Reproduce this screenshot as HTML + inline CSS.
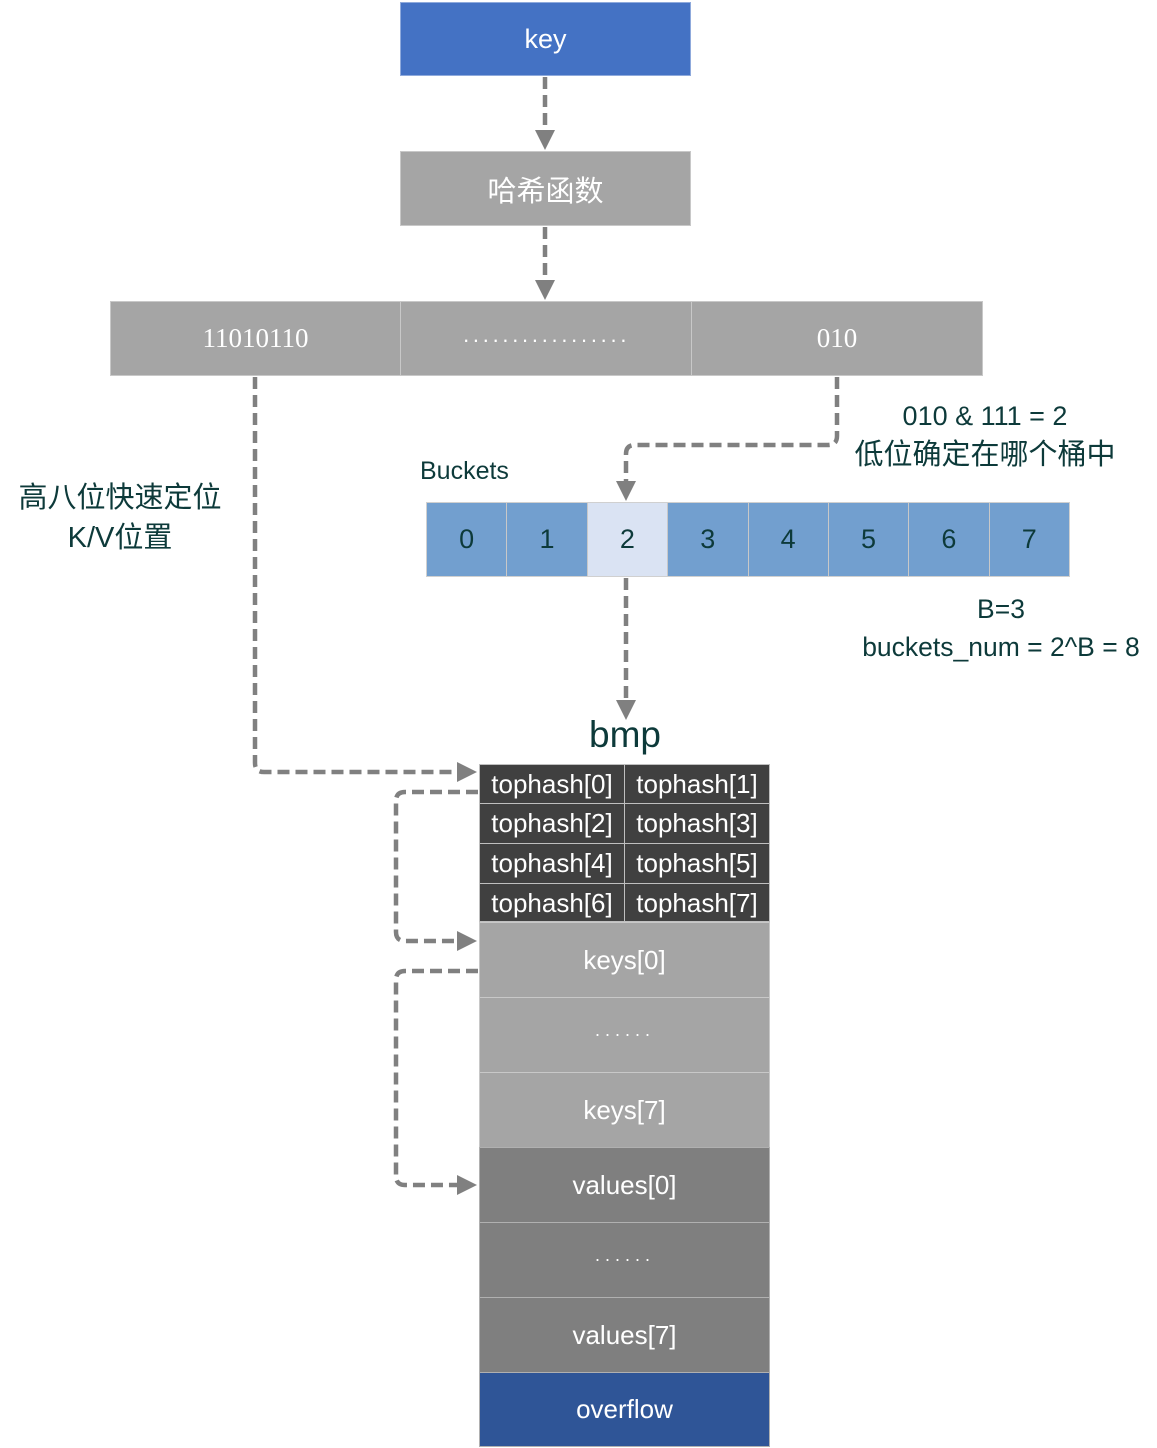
<!DOCTYPE html>
<html><head><meta charset="utf-8">
<style>
html,body{margin:0;padding:0;background:#fff;}
body{width:1157px;height:1448px;position:relative;overflow:hidden;font-family:"Liberation Sans","Noto Sans CJK SC",sans-serif;}
.b{position:absolute;box-sizing:border-box;display:flex;align-items:center;justify-content:center;color:#fff;}
.t{position:absolute;color:#0d3a3a;white-space:nowrap;}
</style></head><body>
<div class="b" style="left:400px;top:2px;width:291px;height:74px;background:#4472C4;border:1px solid #8faadc;font-size:27px;">key</div>
<div class="b" style="left:400px;top:151px;width:291px;height:75px;background:#A5A5A5;border:1px solid #c8c8c8;font-size:29px;font-family:'Noto Sans CJK SC',sans-serif;">哈希函数</div>

<div class="b" style="left:110px;top:301px;width:291px;height:75px;background:#A5A5A5;border:1px solid #c8c8c8;font-size:27px;font-family:'Liberation Serif',serif;">11010110</div>
<div class="b" style="left:400px;top:301px;width:292px;height:75px;background:#A5A5A5;border:1px solid #c8c8c8;font-size:22px;letter-spacing:2.5px;padding-top:2px;">·················</div>
<div class="b" style="left:691px;top:301px;width:292px;height:75px;background:#A5A5A5;border:1px solid #c8c8c8;font-size:27px;font-family:'Liberation Serif',serif;">010</div>

<div class="t" style="left:420px;top:457px;font-size:25px;">Buckets</div>
<div class="t" style="left:845px;top:397px;width:280px;text-align:center;font-size:27px;line-height:39px;">010 &amp; 111 = 2<br><span style="font-size:29px">低位确定在哪个桶中</span></div>
<div class="t" style="left:855px;top:590px;width:292px;text-align:center;font-size:26.5px;line-height:38px;">B=3<br>buckets_num = 2^B = 8</div>
<div class="t" style="left:0px;top:478px;width:240px;text-align:center;font-size:29px;line-height:40px;">高八位快速定位<br>K/V位置</div>

<div style="position:absolute;left:426px;top:502px;width:644px;height:75px;display:flex;border:1px solid #d0d0d0;box-sizing:border-box;">
<div class="b" style="position:relative;flex:1;height:100%;background:#729FCF;border-right:1px solid #c8c8c8;color:#0d3a3a;font-size:27px;">0</div>
<div class="b" style="position:relative;flex:1;height:100%;background:#729FCF;border-right:1px solid #c8c8c8;color:#0d3a3a;font-size:27px;">1</div>
<div class="b" style="position:relative;flex:1;height:100%;background:#DAE3F3;border-right:1px solid #c8c8c8;color:#0d3a3a;font-size:27px;">2</div>
<div class="b" style="position:relative;flex:1;height:100%;background:#729FCF;border-right:1px solid #c8c8c8;color:#0d3a3a;font-size:27px;">3</div>
<div class="b" style="position:relative;flex:1;height:100%;background:#729FCF;border-right:1px solid #c8c8c8;color:#0d3a3a;font-size:27px;">4</div>
<div class="b" style="position:relative;flex:1;height:100%;background:#729FCF;border-right:1px solid #c8c8c8;color:#0d3a3a;font-size:27px;">5</div>
<div class="b" style="position:relative;flex:1;height:100%;background:#729FCF;border-right:1px solid #c8c8c8;color:#0d3a3a;font-size:27px;">6</div>
<div class="b" style="position:relative;flex:1;height:100%;background:#729FCF;color:#0d3a3a;font-size:27px;">7</div>
</div>

<div class="t" style="left:545px;top:714px;width:160px;text-align:center;font-size:37px;">bmp</div>

<div style="position:absolute;left:479px;top:764px;width:291px;height:158px;background:#404040;border:1px solid #bfbfbf;box-sizing:border-box;"></div>
<div class="b" style="left:479px;top:764px;width:146px;height:40px;border:1px solid #bfbfbf;font-size:26px;">tophash[0]</div>
<div class="b" style="left:624px;top:764px;width:146px;height:40px;border:1px solid #bfbfbf;font-size:26px;">tophash[1]</div>
<div class="b" style="left:479px;top:803px;width:146px;height:41px;border:1px solid #bfbfbf;font-size:26px;">tophash[2]</div>
<div class="b" style="left:624px;top:803px;width:146px;height:41px;border:1px solid #bfbfbf;font-size:26px;">tophash[3]</div>
<div class="b" style="left:479px;top:843px;width:146px;height:41px;border:1px solid #bfbfbf;font-size:26px;">tophash[4]</div>
<div class="b" style="left:624px;top:843px;width:146px;height:41px;border:1px solid #bfbfbf;font-size:26px;">tophash[5]</div>
<div class="b" style="left:479px;top:883px;width:146px;height:40px;border:1px solid #bfbfbf;font-size:26px;">tophash[6]</div>
<div class="b" style="left:624px;top:883px;width:146px;height:40px;border:1px solid #bfbfbf;font-size:26px;">tophash[7]</div>

<div class="b" style="left:479px;top:922px;width:291px;height:76px;background:#A5A5A5;border:1px solid #c8c8c8;font-size:26px;">keys[0]</div>
<div class="b" style="left:479px;top:997px;width:291px;height:76px;background:#A5A5A5;border:1px solid #c8c8c8;font-size:18px;letter-spacing:4px;padding-bottom:2px;">······</div>
<div class="b" style="left:479px;top:1072px;width:291px;height:76px;background:#A5A5A5;border:1px solid #c8c8c8;font-size:26px;">keys[7]</div>
<div class="b" style="left:479px;top:1147px;width:291px;height:76px;background:#7F7F7F;border:1px solid #b0b0b0;font-size:26px;">values[0]</div>
<div class="b" style="left:479px;top:1222px;width:291px;height:76px;background:#7F7F7F;border:1px solid #b0b0b0;font-size:18px;letter-spacing:4px;padding-bottom:2px;">······</div>
<div class="b" style="left:479px;top:1297px;width:291px;height:76px;background:#7F7F7F;border:1px solid #b0b0b0;font-size:26px;">values[7]</div>
<div class="b" style="left:479px;top:1372px;width:291px;height:75px;background:#2F5597;border:1px solid #b0b0b0;font-size:26px;">overflow</div>

<svg style="position:absolute;left:0;top:0" width="1157" height="1448">
<g fill="none" stroke="#808080" stroke-width="4.5" stroke-dasharray="12,6">
<path d="M545 77 V132"/>
<path d="M545 227 V282"/>
<path d="M837 377 V436 Q837 445 828 445 H635 Q626 445 626 454 V483"/>
<path d="M626 578 V702"/>
<path d="M255 377 V763 Q255 772 264 772 H460"/>
<path d="M478 792 H405 Q396 792 396 801 V932 Q396 941 405 941 H460"/>
<path d="M478 971 H405 Q396 971 396 980 V1176 Q396 1185 405 1185 H460"/>
</g>
<g fill="#808080">
<polygon points="535,130 555,130 545,150"/>
<polygon points="535,280 555,280 545,300"/>
<polygon points="616,481 636,481 626,501"/>
<polygon points="616,700 636,700 626,720"/>
<polygon points="457,762 457,782 477,772"/>
<polygon points="457,931 457,951 477,941"/>
<polygon points="457,1175 457,1195 477,1185"/>
</g>
</svg>
</body></html>
